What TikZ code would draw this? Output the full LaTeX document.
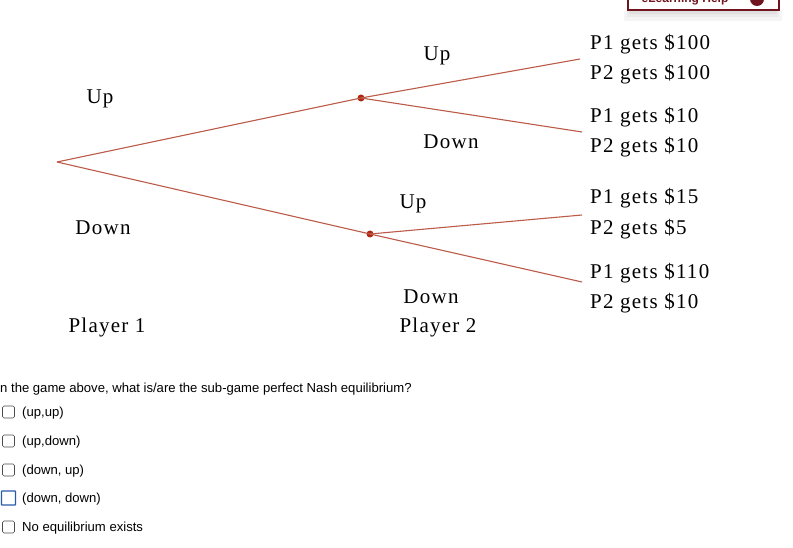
\documentclass[tikz,border=0pt]{standalone}
\usepackage{fontspec}
\setmainfont{Liberation Serif}[LetterSpace=6]
\newfontfamily\qfont{Liberation Sans}
\definecolor{branch}{RGB}{188,92,72}
\definecolor{dotred}{RGB}{178,38,20}
\definecolor{maroon}{RGB}{112,20,32}
\definecolor{focusblue}{RGB}{40,90,170}
\tikzset{
  branchline/.style={draw=branch, line width=1.1pt},
  decision/.style={circle, fill=dotred, inner sep=0pt, minimum size=7pt},
  lbl/.style={font=\fontsize{21}{24}\selectfont, inner sep=0pt},
  pay/.style={font=\fontsize{21}{24}\selectfont, inner sep=0pt, anchor=west},
  qtext/.style={font=\qfont\fontsize{13.1}{15}\selectfont, inner sep=0pt, anchor=west},
  cbox/.style={draw=black!70, line width=0.7pt, rounded corners=1.5pt, minimum size=12pt, inner sep=0pt},
}
\begin{document}
\begin{tikzpicture}[x=1pt,y=-1pt]
\useasboundingbox (0,0) rectangle (793,548);
\clip (0,0) rectangle (793,548);
\fill[white] (0,0) rectangle (793,548);
% eLearning Help button (cropped), soft shadow below
\fill[black!4] (624,11) rectangle (782,21);
\fill[black!8] (627,11) rectangle (779,17);
\fill[black!12] (629,11) rectangle (777,14);
\node[draw=maroon, line width=1.5pt, fill=white, minimum width=151pt, minimum height=30pt, anchor=south west, inner sep=0pt] (help) at (627,11) {};
\node[font=\qfont\bfseries\fontsize{12}{14}\selectfont, text=maroon, inner sep=0pt] (helptxt) at (685,-1) {eLearning Help};
\node[circle, fill=maroon, minimum size=14pt, inner sep=0pt] (helpicon) at (757,-1) {};
% tree
\coordinate (root) at (57,162);
\node[decision] (p2a) at (361,98) {};
\node[decision] (p2b) at (370,234) {};
\coordinate (e1) at (580,59);
\coordinate (e2) at (582,132);
\coordinate (e3) at (582,215);
\coordinate (e4) at (582,282);
\draw[branchline] (root) -- (p2a.center);
\draw[branchline] (root) -- (p2b.center);
\draw[branchline] (p2a.center) -- (e1);
\draw[branchline] (p2a.center) -- (e2);
\draw[branchline] (p2b.center) -- (e3);
\draw[branchline] (p2b.center) -- (e4);
% labels
\node[lbl] (l1) at (100,99) {Up};
\node[lbl] (l2) at (103,228) {Down};
\node[lbl] (l3) at (107,327) {Player 1};
\node[lbl] (l4) at (437,56) {Up};
\node[lbl] (l5) at (451,142) {Down};
\node[lbl] (l6) at (413,204) {Up};
\node[lbl] (l7) at (431,297) {Down};
\node[lbl] (l8) at (438,327) {Player 2};
% payoffs
\node[pay] (a1) at (590,44) {P1 gets \$100};
\node[pay] (a2) at (590,74) {P2 gets \$100};
\node[pay] (b1) at (590,117) {P1 gets \$10};
\node[pay] (b2) at (590,147) {P2 gets \$10};
\node[pay] (c1) at (590,198) {P1 gets \$15};
\node[pay] (c2) at (590,229) {P2 gets \$5};
\node[pay] (d1) at (590,273) {P1 gets \$110};
\node[pay] (d2) at (590,303) {P2 gets \$10};
% question
\node[qtext] (q) at (0,389) {n the game above, what is/are the sub-game perfect Nash equilibrium?};
\node[cbox] (c1b) at (8.5,412) {};
\node[qtext] (o1) at (22,413) {(up,up)};
\node[cbox] (c2b) at (8.5,441) {};
\node[qtext] (o2) at (22,442) {(up,down)};
\node[cbox] (c3b) at (8.5,470) {};
\node[qtext] (o3) at (22,471) {(down, up)};
\node[cbox, draw=focusblue, line width=1.4pt, rounded corners=0.5pt, minimum size=14pt] (c4b) at (8.5,498) {};
\node[qtext] (o4) at (22,499) {(down, down)};
\node[cbox] (c5b) at (8.5,527) {};
\node[qtext] (o5) at (22,528) {No equilibrium exists};
\end{tikzpicture}
\end{document}
